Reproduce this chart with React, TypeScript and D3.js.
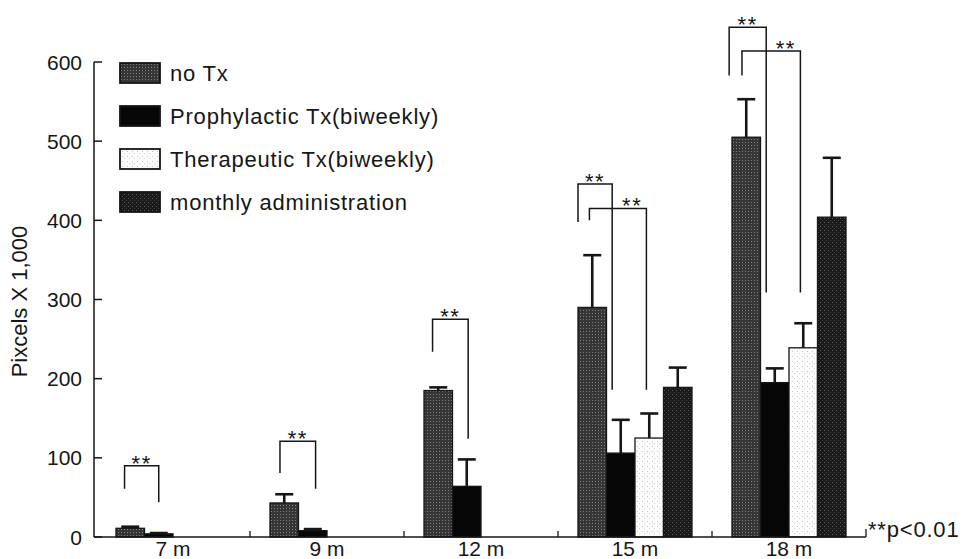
import React from 'react';
import * as d3 from 'd3';

const W = 968;
const H = 559;

// values x 1,000 pixels
const categories = ['7 m', '9 m', '12 m', '15 m', '18 m'];
const seriesNames = ['no Tx', 'Prophylactic Tx(biweekly)', 'Therapeutic Tx(biweekly)', 'monthly administration'];
const noTx = [11, 43, 185, 290, 505];
const noTxErr = [2, 11, 4, 66, 48];
const prophylactic = [4, 8, 64, 106, 195];
const prophylacticErr = [1, 2, 34, 42, 18];
const therapeutic = [null, null, null, 125, 239];
const therapeuticErr = [null, null, null, 31, 31];
const monthly = [null, null, null, 189, 404];
const monthlyErr = [null, null, null, 25, 75];
const yTicks = [0, 100, 200, 300, 400, 500, 600];

// significance brackets: from/to are positions in bar units inside a group
const brackets = [
  {cat: '7 m', from: 0.3, to: 1.5, top: 90, leftEnd: 61, rightEnd: 44, labelAt: 0.5},
  {cat: '9 m', from: 0.35, to: 1.6, top: 121, leftEnd: 81, rightEnd: 61, labelAt: 0.5},
  {cat: '12 m', from: 0.3, to: 1.55, top: 275, leftEnd: 234, rightEnd: 124, labelAt: 0.5},
  {cat: '15 m', from: 0, to: 1.2, top: 446, leftEnd: 398, rightEnd: 186, labelAt: 0.5},
  {cat: '15 m', from: 0.4, to: 2.4, top: 415, leftEnd: 400, rightEnd: 186, labelAt: 0.75},
  {cat: '18 m', from: -0.1, to: 1.2, top: 644, leftEnd: 583, rightEnd: 309, labelAt: 0.5},
  {cat: '18 m', from: 0.35, to: 2.4, top: 614, leftEnd: 583, rightEnd: 309, labelAt: 0.75},
];

const values = [noTx, prophylactic, therapeutic, monthly];
const errors = [noTxErr, prophylacticErr, therapeuticErr, monthlyErr];
const fills = ['url(#pNoTx)', '#060606', 'url(#pThera)', 'url(#pMonthly)'];

const font = 'Liberation Sans, Arial, sans-serif';
const ink = '#161616';

export default function App() {
  const x = d3.scaleBand().domain(categories).range([96, 866]);
  const inner = d3.scaleBand().domain(d3.range(4).map(String)).range([20, 134]);
  const y = d3.scaleLinear().domain([0, 600]).range([537, 62]);
  const bw = inner.bandwidth();

  const barX = (cat, pos) => x(cat) + inner(String(0)) + pos * bw;

  return (
    <div style={{position: 'absolute', left: 0, top: 0}}>
      <svg width={W} height={H} style={{display: 'block', background: '#fff'}} fontFamily={font}>
        <defs>
          <pattern id="pNoTx" width="3" height="3" patternUnits="userSpaceOnUse">
            <rect width="3" height="3" fill="#363636" />
            <rect x="1" y="1" width="1" height="1" fill="#808080" />
          </pattern>
          <pattern id="pMonthly" width="4" height="4" patternUnits="userSpaceOnUse">
            <rect width="4" height="4" fill="#1a1a1a" />
            <rect x="0" y="2" width="1" height="1" fill="#5a5a5a" />
            <rect x="2" y="0" width="1" height="1" fill="#444" />
          </pattern>
          <pattern id="pThera" width="5" height="5" patternUnits="userSpaceOnUse">
            <rect width="5" height="5" fill="#fcfcfc" />
            <rect x="2" y="1" width="1" height="1" fill="#c4c4c4" />
            <rect x="4" y="3" width="1" height="1" fill="#d6d6d6" />
          </pattern>
        </defs>

        {/* bars */}
        {categories.map((cat, ci) => (
          <g key={cat}>
            {values.map((vals, si) => {
              const v = vals[ci];
              if (v == null) return null;
              const bx = x(cat) + inner(String(si));
              return (
                <rect key={si} x={bx} y={y(v)} width={bw} height={y(0) - y(v)}
                  fill={fills[si]} stroke={ink} strokeWidth={1.3} />
              );
            })}
            {values.map((vals, si) => {
              const v = vals[ci];
              const e = errors[si][ci];
              if (v == null || e == null) return null;
              const cx = x(cat) + inner(String(si)) + bw / 2;
              return (
                <g key={'e' + si} stroke={ink} strokeWidth={2.6}>
                  <line x1={cx} x2={cx} y1={y(v)} y2={y(v + e)} />
                  <line x1={cx - 9} x2={cx + 9} y1={y(v + e)} y2={y(v + e)} />
                </g>
              );
            })}
          </g>
        ))}

        {/* brackets */}
        {brackets.map((b, i) => {
          const x1 = barX(b.cat, b.from);
          const x2 = barX(b.cat, b.to);
          const lx = x1 + (x2 - x1) * b.labelAt;
          return (
            <g key={i}>
              <path d={`M${x1},${y(b.leftEnd)}V${y(b.top)}H${x2}V${y(b.rightEnd)}`}
                fill="none" stroke={ink} strokeWidth={1.5} />
              <text x={lx} y={y(b.top) + 5} textAnchor="middle" fontSize={22}
                letterSpacing={1.5} fill={ink}>**</text>
            </g>
          );
        })}

        {/* y axis */}
        <line x1={94} x2={94} y1={y(600)} y2={y(0)} stroke={ink} strokeWidth={1.5} />
        {yTicks.map(t => (
          <g key={t}>
            <line x1={94} x2={102} y1={y(t)} y2={y(t)} stroke={ink} strokeWidth={1.5} />
            <text x={82} y={y(t)} dy="0.36em" textAnchor="end" fontSize={21} fill={ink}>{t}</text>
          </g>
        ))}
        <text transform={`translate(27,${(y(0) + y(600)) / 2 + 2}) rotate(-90)`} textAnchor="middle"
          fontSize={22} fill={ink}>Pixcels X 1,000</text>

        {/* x axis */}
        <line x1={94} x2={866} y1={y(0)} y2={y(0)} stroke={ink} strokeWidth={1.5} />
        {categories.slice(1).map(c => (
          <line key={c} x1={x(c)} x2={x(c)} y1={y(0)} y2={y(0) - 6} stroke={ink} strokeWidth={1.3} />
        ))}
        <line x1={866} x2={866} y1={y(0)} y2={y(0) - 8} stroke={ink} strokeWidth={1.3} />
        {categories.map(c => (
          <text key={c} x={x(c) + x.bandwidth() / 2} y={556} textAnchor="middle" fontSize={21} fill={ink}>{c}</text>
        ))}
        <text x={868} y={537} fontSize={22} letterSpacing={0.8} fill={ink}>**p&lt;0.01</text>

        {/* legend */}
        {seriesNames.map((name, i) => {
          const ly = 73 + i * 43;
          return (
            <g key={name}>
              <rect x={120} y={ly - 10} width={40} height={20} fill={fills[i]} stroke={ink} strokeWidth={1.8} />
              <text x={170} y={ly} dy="0.36em" fontSize={22} letterSpacing={0.8} fill={ink}>{name}</text>
            </g>
          );
        })}
      </svg>
    </div>
  );
}
